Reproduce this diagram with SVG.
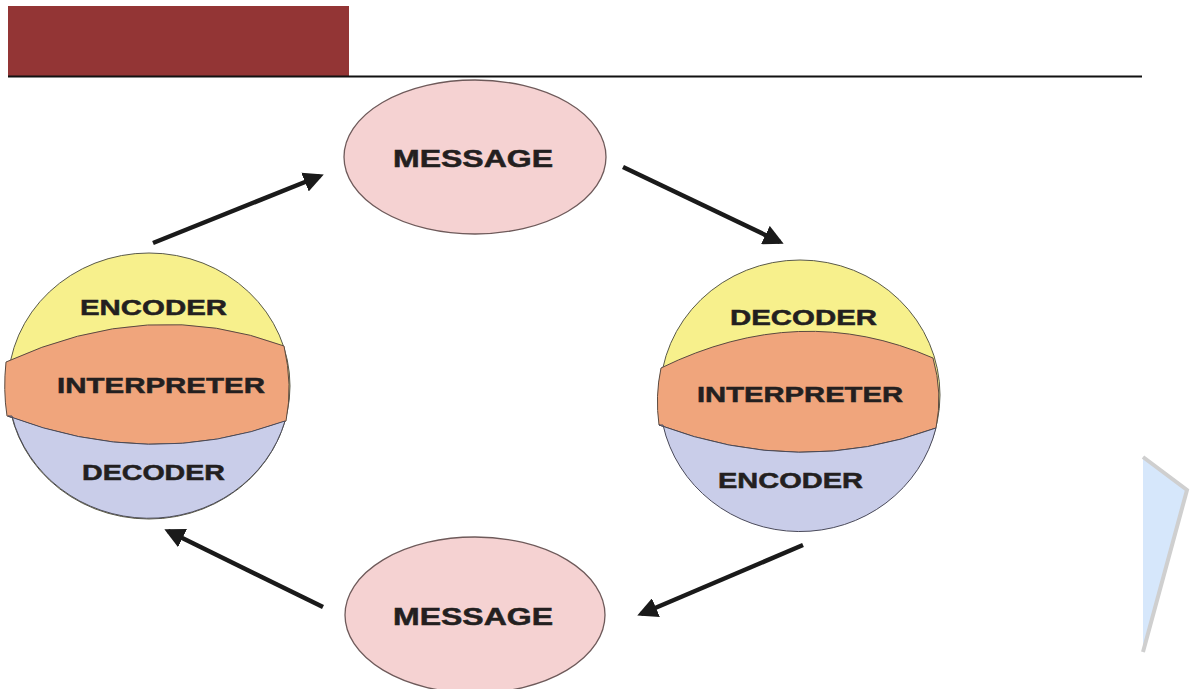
<svg xmlns="http://www.w3.org/2000/svg" width="1190" height="689" viewBox="0 0 1190 689">
<defs>
<style>
.lbl{font-family:"Liberation Sans",Arial,sans-serif;font-weight:bold;fill:#231f20;stroke:#231f20;stroke-width:0.5;text-anchor:middle;}
.msg{fill:#f5d2d2;stroke:#6e5a5a;stroke-width:1.3;}
.yel{fill:#f7f08c;stroke:#5a5a4a;stroke-width:1;}
.org{fill:#f0a57c;stroke:#5a4a40;stroke-width:1;}
.blu{fill:#c9cde9;stroke:#4a4a5a;stroke-width:1;}
.conn{stroke:#1a1a1a;stroke-width:4.5;fill:none;marker-end:url(#ah);}
</style>
<marker id="ah" viewBox="0 0 10 10" refX="8" refY="5" markerWidth="4.5" markerHeight="4.5" orient="auto" markerUnits="strokeWidth">
<path d="M0,0 L10,5 L0,10 Z" fill="#1a1a1a"/>
</marker>
</defs>
<rect width="1190" height="689" fill="#ffffff"/>
<g id="banner">
<rect x="8" y="6" width="341" height="70" fill="#933535"/>
<line x1="8" y1="76.5" x2="1142" y2="76.5" stroke="#111" stroke-width="2"/>
</g>
<g id="corner-shape">
<polygon points="1143,457 1188,490 1143,653" fill="#d6e7fb"/>
<path d="M1143,457 L1187,490 L1143,652" fill="none" stroke="#cfcfcf" stroke-width="4"/>
</g>
<g id="connectors">
<line class="conn" x1="153" y1="243" x2="320" y2="176"/>
<line class="conn" x1="623" y1="167" x2="780" y2="242"/>
<line class="conn" x1="803" y1="545" x2="641" y2="614"/>
<line class="conn" x1="323" y1="607" x2="168" y2="531"/>
</g>
<g id="message-top">
<ellipse class="msg" cx="475" cy="157" rx="131" ry="77"/>
<text class="lbl" x="473" y="167" font-size="23" textLength="160" lengthAdjust="spacingAndGlyphs">MESSAGE</text>
</g>
<g id="message-bottom">
<ellipse class="msg" cx="475" cy="615" rx="130" ry="78"/>
<text class="lbl" x="473" y="625" font-size="23" textLength="160" lengthAdjust="spacingAndGlyphs">MESSAGE</text>
</g>
<g id="sender">
<ellipse class="yel" cx="149" cy="386" rx="141" ry="133"/>
<path class="org" d="M6,362 Q150,296 284,346 Q293,385 286,421 Q150,470 7,416 Q3,390 6,362 Z"/>
<path class="blu" d="M8,416 Q150,470 285,421 A141,133 0 0 1 12,416 Z"/>
<text class="lbl" x="153.5" y="315" font-size="22" textLength="147" lengthAdjust="spacingAndGlyphs">ENCODER</text>
<text class="lbl" x="161" y="393" font-size="22" textLength="208" lengthAdjust="spacingAndGlyphs">INTERPRETER</text>
<text class="lbl" x="153.5" y="480" font-size="22" textLength="143" lengthAdjust="spacingAndGlyphs">DECODER</text>
</g>
<g id="receiver">
<ellipse class="yel" cx="800" cy="395" rx="140" ry="135"/>
<path class="org" d="M661,368 Q800,300 933,358 Q943,393 936,428 Q800,478 659,425 Q655,396 661,368 Z"/>
<path class="blu" d="M659,425 Q800,478 936,428 A140,135 0 0 1 663,425 Z"/>
<text class="lbl" x="803.5" y="325" font-size="22" textLength="147" lengthAdjust="spacingAndGlyphs">DECODER</text>
<text class="lbl" x="800" y="402" font-size="22" textLength="206" lengthAdjust="spacingAndGlyphs">INTERPRETER</text>
<text class="lbl" x="790.5" y="488" font-size="22" textLength="145" lengthAdjust="spacingAndGlyphs">ENCODER</text>
</g>
</svg>
